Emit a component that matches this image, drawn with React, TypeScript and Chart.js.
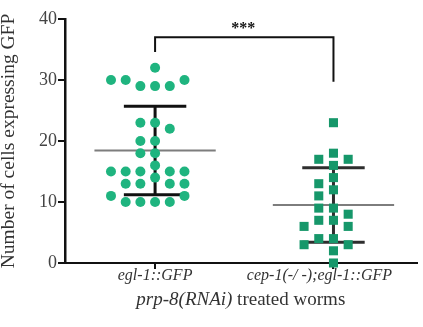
import React, { useEffect, useRef } from "react";
import { Chart, registerables } from "chart.js";

Chart.register(...registerables);

// ---- data ----
const groupLabels = ["egl-1::GFP", "cep-1(-/ -);egl-1::GFP"];
const groupPositions = [1, 2];
const eglValues = [29, 29, 29, 30, 30, 30, 32, 23, 23, 22, 20, 20, 18, 18, 16, 15, 15, 15, 15, 15, 14, 13, 13, 13, 13, 10, 10, 10, 10, 11, 11];
const cepValues = [23, 18, 17, 17, 16, 14, 13, 12, 11, 9, 9, 8, 7, 7, 6, 6, 4, 4, 3, 3, 2, 0];
const yTicks = [0, 10, 20, 30, 40];
const yTitle = "Number of cells expressing GFP";
const xTitleItalic = "prp-8(RNAi)";
const xTitleRest = " treated worms";
const sigLabel = "***";
const sigLeftFoot = 34.6;
const sigBar = 37;
const sigRightFoot = 29.7;

const SERIF = '"Liberation Serif", "Times New Roman", serif';

function meanSd(vals: number[]) {
  const n = vals.length;
  const m = vals.reduce((a, b) => a + b, 0) / n;
  const ss = vals.reduce((a, b) => a + (b - m) * (b - m), 0);
  return { mean: m, sd: Math.sqrt(ss / (n - 1)) };
}

function swarm(values: number[], centerPx: number, yScale: any, step: number, minDist: number) {
  const placed: { x: number; y: number }[] = [];
  const cands: number[] = [0];
  for (let k = 1; k < 30; k++) cands.push((-k * step) / 2, (k * step) / 2);
  return values.map((v) => {
    const py = yScale.getPixelForValue(v);
    for (const c of cands) {
      const px = centerPx + c;
      if (placed.every((p) => Math.hypot(p.x - px, p.y - py) >= minDist)) {
        placed.push({ x: px, y: py });
        return px;
      }
    }
    return centerPx;
  });
}

const groups = [eglValues, cepValues];

const overlayPlugin = {
  id: "overlay",
  beforeDatasetsDraw(chart: any) {
    const { ctx, scales } = chart;
    const xs = scales.x;
    const ys = scales.y;
    groups.forEach((vals, i) => {
      const { mean, sd } = meanSd(vals);
      const cx = xs.getPixelForValue(groupPositions[i]);
      const halfMean = xs.getPixelForValue(groupPositions[i] + 0.34) - cx;
      const halfCap = xs.getPixelForValue(groupPositions[i] + 0.175) - cx;
      const yTop = ys.getPixelForValue(mean + sd);
      const yBot = ys.getPixelForValue(mean - sd);
      const yMean = ys.getPixelForValue(mean);
      ctx.save();
      ctx.strokeStyle = i === 0 ? "#111111" : "#2e2e2e";
      ctx.lineWidth = 3;
      ctx.beginPath();
      ctx.moveTo(cx, yTop);
      ctx.lineTo(cx, yBot);
      ctx.moveTo(cx - halfCap, yTop);
      ctx.lineTo(cx + halfCap, yTop);
      ctx.moveTo(cx - halfCap, yBot);
      ctx.lineTo(cx + halfCap, yBot);
      ctx.stroke();
      ctx.strokeStyle = "#7d7d7d";
      ctx.lineWidth = 2;
      ctx.beginPath();
      ctx.moveTo(cx - halfMean, yMean);
      ctx.lineTo(cx + halfMean, yMean);
      ctx.stroke();
      ctx.restore();
    });
  },
  afterDraw(chart: any) {
    const { ctx, scales, chartArea } = chart;
    const xs = scales.x;
    const ys = scales.y;
    ctx.save();
    // y title
    ctx.fillStyle = "#333333";
    ctx.font = `19.5px ${SERIF}`;
    ctx.textAlign = "center";
    ctx.textBaseline = "middle";
    ctx.translate(9, (chartArea.top + chartArea.bottom) / 2);
    ctx.rotate(-Math.PI / 2);
    ctx.fillText(yTitle, 0, 0);
    ctx.restore();

    // x tick labels
    ctx.save();
    ctx.fillStyle = "#333333";
    ctx.font = `italic 16px ${SERIF}`;
    ctx.textAlign = "center";
    ctx.textBaseline = "alphabetic";
    const labelShift = [0, -14];
    groupLabels.forEach((lab, i) => {
      ctx.fillText(lab, xs.getPixelForValue(groupPositions[i]) + labelShift[i], chartArea.bottom + 17);
    });
    ctx.restore();

    // x title (mixed style)
    ctx.save();
    ctx.fillStyle = "#333333";
    ctx.textBaseline = "alphabetic";
    ctx.textAlign = "left";
    ctx.font = `italic 19px ${SERIF}`;
    const w1 = ctx.measureText(xTitleItalic).width;
    ctx.font = `19px ${SERIF}`;
    const w2 = ctx.measureText(xTitleRest).width;
    const cxT = (chartArea.left + chartArea.right) / 2;
    const startX = cxT - (w1 + w2) / 2;
    const baseY = chartArea.bottom + 42;
    ctx.font = `italic 19px ${SERIF}`;
    ctx.fillText(xTitleItalic, startX, baseY);
    ctx.font = `19px ${SERIF}`;
    ctx.fillText(xTitleRest, startX + w1, baseY);
    ctx.restore();

    // significance bracket
    ctx.save();
    const xL = xs.getPixelForValue(groupPositions[0]);
    const xR = xs.getPixelForValue(groupPositions[1]);
    const yBar = ys.getPixelForValue(sigBar);
    ctx.strokeStyle = "#111111";
    ctx.lineWidth = 2;
    ctx.beginPath();
    ctx.moveTo(xL, ys.getPixelForValue(sigLeftFoot));
    ctx.lineTo(xL, yBar);
    ctx.lineTo(xR, yBar);
    ctx.lineTo(xR, ys.getPixelForValue(sigRightFoot));
    ctx.stroke();
    ctx.fillStyle = "#111111";
    ctx.font = `bold 16px ${SERIF}`;
    ctx.textAlign = "center";
    ctx.textBaseline = "middle";
    ctx.fillText(sigLabel, (xL + xR) / 2 - 1, yBar - 8);
    ctx.restore();
  },
};

export default function App() {
  const canvasRef = useRef<HTMLCanvasElement | null>(null);

  useEffect(() => {
    if (!canvasRef.current) return;
    const chart = new Chart(canvasRef.current, {
      type: "scatter",
      data: {
        datasets: [
          {
            label: groupLabels[0],
            data: eglValues.map((v) => ({ x: groupPositions[0], y: v })),
            pointStyle: "circle",
            pointRadius: 5,
            backgroundColor: "#1fb47f",
            borderWidth: 0,
            clip: false as any,
          },
          {
            label: groupLabels[1],
            data: cepValues.map((v) => ({ x: groupPositions[1], y: v })),
            pointStyle: "rect",
            pointRadius: 6.4,
            backgroundColor: "#16976a",
            borderWidth: 0,
            clip: false as any,
          },
        ],
      },
      options: {
        animation: false,
        responsive: true,
        maintainAspectRatio: false,
        layout: { padding: { top: 19, left: 0, right: 0, bottom: 0 } },
        plugins: { legend: { display: false }, tooltip: { enabled: false } },
        scales: {
          x: {
            type: "linear",
            min: 0.495,
            max: 2.466,
            afterBuildTicks: (scale: any) => {
              scale.ticks = groupPositions.map((v) => ({ value: v }));
            },
            afterFit: (scale: any) => {
              scale.height = 64;
            },
            ticks: { display: false },
            grid: {
              display: true,
              drawOnChartArea: false,
              drawTicks: true,
              tickLength: 6,
              color: "#111111",
              lineWidth: 2,
            },
            border: { display: true, color: "#111111", width: 2 },
          },
          y: {
            type: "linear",
            min: 0,
            max: 40,
            afterBuildTicks: (scale: any) => {
              scale.ticks = yTicks.map((v) => ({ value: v }));
            },
            afterFit: (scale: any) => {
              scale.width = 65;
            },
            ticks: {
              color: "#444444",
              font: { family: SERIF, size: 18 },
              padding: 1,
            },
            grid: {
              display: true,
              drawOnChartArea: false,
              drawTicks: true,
              tickLength: 7,
              color: "#111111",
              lineWidth: 2,
            },
            border: { display: true, color: "#111111", width: 2.5 },
          },
        },
      },
      plugins: [overlayPlugin],
    });

    // beeswarm placement computed from the values through the chart's scales
    const xs: any = chart.scales.x;
    const ys: any = chart.scales.y;
    groups.forEach((vals, i) => {
      const cPx = xs.getPixelForValue(groupPositions[i]);
      const pxs = swarm(vals, cPx, ys, 14.7, 11);
      chart.data.datasets[i].data = vals.map((v, j) => ({ x: xs.getValueForPixel(pxs[j]), y: v }));
    });
    chart.update();

    return () => chart.destroy();
  }, []);

  return (
    <div style={{ position: "absolute", left: 0, top: 0, width: 423, height: 327 }}>
      <canvas ref={canvasRef} />
    </div>
  );
}
